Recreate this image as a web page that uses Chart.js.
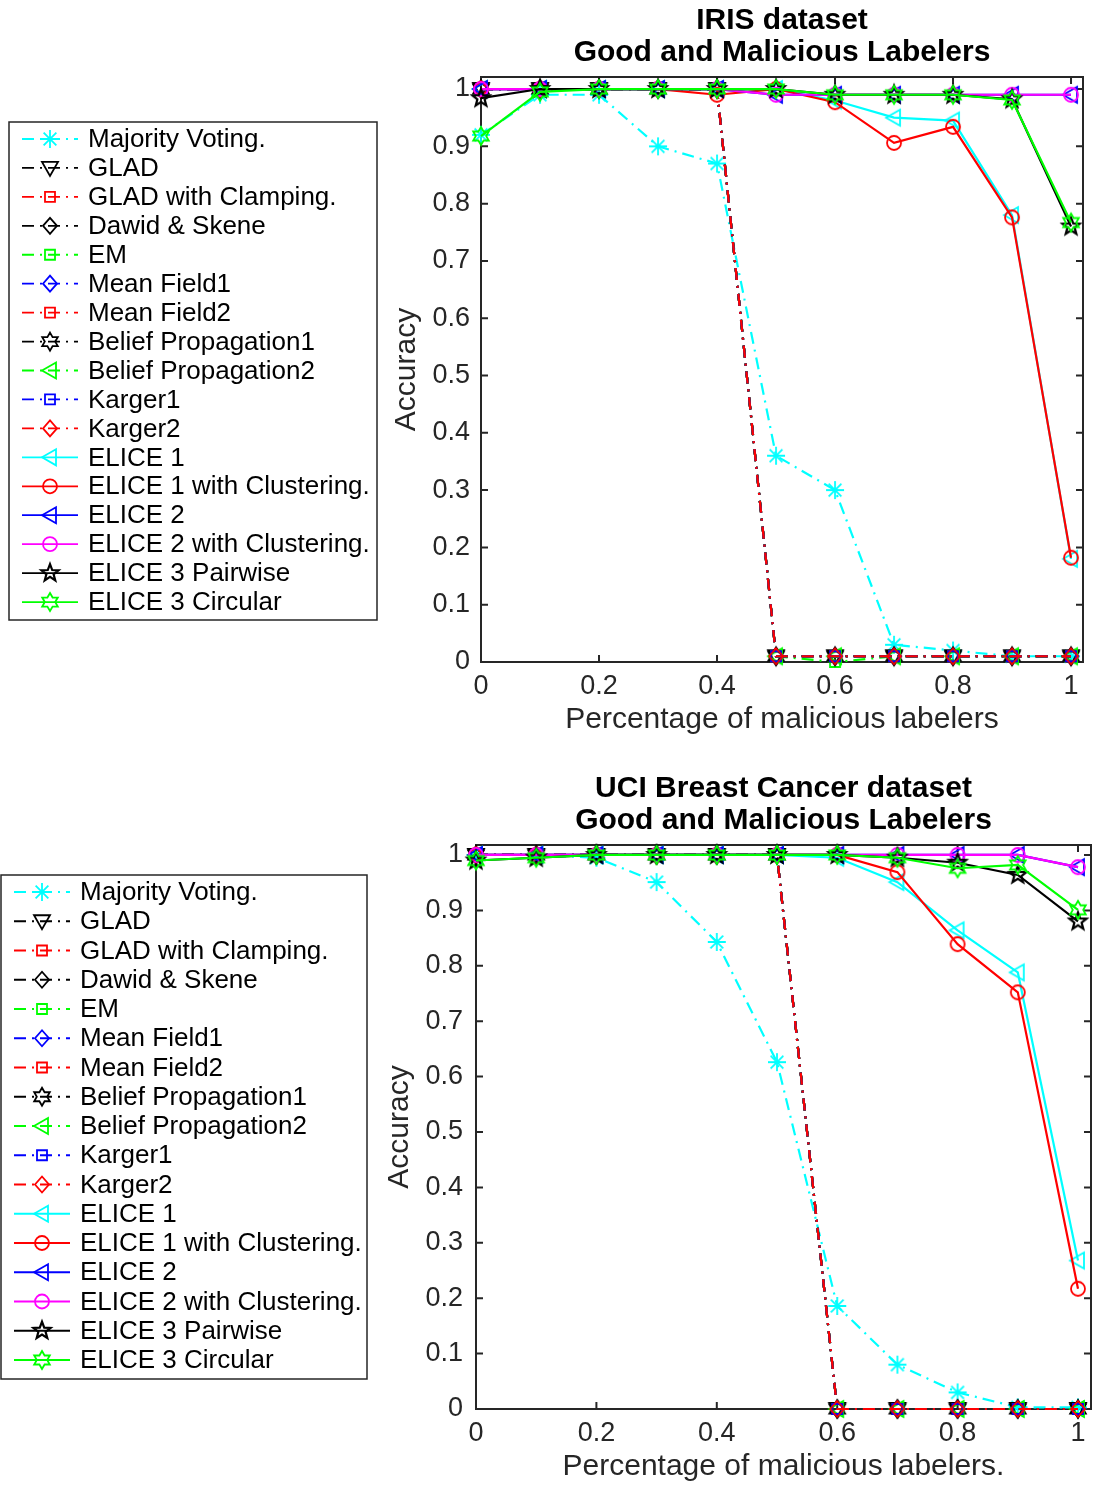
<!DOCTYPE html>
<html>
<head>
<meta charset="utf-8">
<script src="https://cdn.jsdelivr.net/npm/chart.js@4.4.1/dist/chart.umd.min.js"></script>
<style>
  html, body { margin: 0; padding: 0; background: #fff; }
  canvas { display: block; }
</style>
</head>
<body>
<canvas id="irisChart" width="1095" height="742"></canvas>
<canvas id="uciChart" width="1095" height="743"></canvas>
<script>
// x positions: share of malicious labelers
const xValues = [0, 0.1, 0.2, 0.3, 0.4, 0.5, 0.6, 0.7, 0.8, 0.9, 1];
const xTickValues = [0, 0.2, 0.4, 0.6, 0.8, 1];
const xTickLabels = ['0', '0.2', '0.4', '0.6', '0.8', '1'];
const yTickValues = [0, 0.1, 0.2, 0.3, 0.4, 0.5, 0.6, 0.7, 0.8, 0.9, 1];
const yTickLabels = ['0', '0.1', '0.2', '0.3', '0.4', '0.5', '0.6', '0.7', '0.8', '0.9', '1'];

const seriesNames = [
    'Majority Voting.', 'GLAD', 'GLAD with Clamping.', 'Dawid & Skene', 'EM',
    'Mean Field1', 'Mean Field2', 'Belief Propagation1', 'Belief Propagation2',
    'Karger1', 'Karger2', 'ELICE 1', 'ELICE 1 with Clustering.', 'ELICE 2',
    'ELICE 2 with Clustering.', 'ELICE 3 Pairwise', 'ELICE 3 Circular',
];
const seriesColors = [
    '#00ffff', '#000000', '#ff0000', '#000000', '#00ff00',
    '#0000ff', '#ff0000', '#000000', '#00ff00',
    '#0000ff', '#ff0000', '#00ffff', '#ff0000', '#0000ff',
    '#ff00ff', '#000000', '#00ff00',
];
const seriesMarkers = [
    'asterisk', 'triDown', 'square', 'diamond', 'square',
    'diamond', 'square', 'hexagram', 'triLeft',
    'square', 'diamond', 'triLeft', 'circle', 'triLeft',
    'circle', 'pentagram', 'hexagram',
];
const seriesDashDot = [
    true, true, true, true, true, true, true, true, true, true, true,
    false, false, false, false, false, false,
];

// IRIS dataset
const irisMajorityVoting = [0.92, 0.99, 0.99, 0.90, 0.87, 0.36, 0.30, 0.03, 0.02, 0.01, 0.01];
const irisGlad = [1, 1, 1, 1, 1, 0.01, 0.01, 0.01, 0.01, 0.01, 0.01];
const irisGladClamping = [1, 1, 1, 1, 1, 0.01, 0.01, 0.01, 0.01, 0.01, 0.01];
const irisDawidSkene = [1, 1, 1, 1, 1, 0.01, 0.01, 0.01, 0.01, 0.01, 0.01];
const irisEm = [1, 1, 1, 1, 1, 0.01, 0.0, 0.01, 0.01, 0.01, 0.01];
const irisMeanField1 = [1, 1, 1, 1, 1, 0.01, 0.01, 0.01, 0.01, 0.01, 0.01];
const irisMeanField2 = [1, 1, 1, 1, 1, 0.01, 0.01, 0.01, 0.01, 0.01, 0.01];
const irisBeliefProp1 = [1, 1, 1, 1, 1, 0.01, 0.01, 0.01, 0.01, 0.01, 0.01];
const irisBeliefProp2 = [1, 1, 1, 1, 1, 0.01, 0.01, 0.01, 0.01, 0.01, 0.01];
const irisKarger1 = [1, 1, 1, 1, 1, 0.01, 0.01, 0.01, 0.01, 0.01, 0.01];
const irisKarger2 = [1, 1, 1, 1, 1, 0.01, 0.01, 0.01, 0.01, 0.01, 0.01];
const irisElice1 = [1, 1, 1, 1, 1, 1, 0.98, 0.95, 0.945, 0.78, 0.18];
const irisElice1Clust = [1, 1, 1, 1, 0.99, 1, 0.977, 0.906, 0.934, 0.776, 0.182];
const irisElice2 = [1, 1, 1, 1, 1, 0.99, 0.99, 0.99, 0.99, 0.99, 0.99];
const irisElice2Clust = [1, 1, 1, 1, 1, 0.99, 0.99, 0.99, 0.99, 0.99, 0.99];
const irisElice3Pairwise = [0.984, 1, 1, 1, 1, 1, 0.99, 0.99, 0.99, 0.982, 0.76];
const irisElice3Circular = [0.918, 0.995, 1, 1, 1, 1, 0.99, 0.99, 0.99, 0.981, 0.767];

// UCI breast cancer dataset
const uciMajorityVoting = [1, 1, 0.995, 0.951, 0.843, 0.626, 0.186, 0.08, 0.03, 0.003, 0.003];
const uciGlad = [1, 1, 1, 1, 1, 1, 0, 0, 0, 0, 0];
const uciGladClamping = [1, 1, 1, 1, 1, 1, 0, 0, 0, 0, 0];
const uciDawidSkene = [1, 1, 1, 1, 1, 1, 0, 0, 0, 0, 0];
const uciEm = [1, 1, 1, 1, 1, 1, 0, 0, 0, 0, 0];
const uciMeanField1 = [1, 1, 1, 1, 1, 1, 0, 0, 0, 0, 0];
const uciMeanField2 = [1, 1, 1, 1, 1, 1, 0, 0, 0, 0, 0];
const uciBeliefProp1 = [1, 1, 1, 1, 1, 1, 0, 0, 0, 0, 0];
const uciBeliefProp2 = [1, 1, 1, 1, 1, 1, 0, 0, 0, 0, 0];
const uciKarger1 = [1, 1, 1, 1, 1, 1, 0, 0, 0, 0, 0];
const uciKarger2 = [1, 1, 1, 1, 1, 1, 0, 0, 0, 0, 0];
const uciElice1 = [1, 1, 1, 1, 1, 1, 0.995, 0.951, 0.864, 0.788, 0.268];
const uciElice1Clust = [1, 1, 1, 1, 1, 1, 1, 0.969, 0.839, 0.752, 0.217];
const uciElice2 = [1, 1, 1, 1, 1, 1, 1, 1, 1, 1, 0.978];
const uciElice2Clust = [1, 1, 1, 1, 1, 1, 1, 1, 1, 1, 0.978];
const uciElice3Pairwise = [0.99, 0.995, 1, 1, 1, 1, 1, 0.995, 0.986, 0.964, 0.88];
const uciElice3Circular = [0.99, 0.995, 1, 1, 1, 1, 1, 0.995, 0.976, 0.982, 0.901];

const FONT = "'Liberation Sans', Arial, Helvetica, sans-serif";
const AXIS_COLOR = '#262626';
const DASH_DOT = [12, 6, 2, 6];

// hollow MATLAB-like markers
function drawMarker(g, kind, x, y) {
    g.beginPath();
    if (kind === 'asterisk') {
        const r = 9;
        for (let a = 0; a < 4; a++) {
            const t = a * Math.PI / 4;
            g.moveTo(x - r * Math.cos(t), y - r * Math.sin(t));
            g.lineTo(x + r * Math.cos(t), y + r * Math.sin(t));
        }
    } else if (kind === 'triDown') {
        g.moveTo(x - 8, y - 6);
        g.lineTo(x + 8, y - 6);
        g.lineTo(x, y + 8);
        g.closePath();
    } else if (kind === 'triLeft') {
        g.moveTo(x - 8, y);
        g.lineTo(x + 6, y - 8);
        g.lineTo(x + 6, y + 8);
        g.closePath();
    } else if (kind === 'square') {
        g.rect(x - 5, y - 5, 10, 10);
    } else if (kind === 'diamond') {
        g.moveTo(x, y - 8);
        g.lineTo(x + 7, y);
        g.lineTo(x, y + 8);
        g.lineTo(x - 7, y);
        g.closePath();
    } else if (kind === 'circle') {
        g.arc(x, y, 7, 0, Math.PI * 2);
    } else if (kind === 'hexagram' || kind === 'pentagram') {
        const n = kind === 'hexagram' ? 6 : 5;
        const outer = kind === 'hexagram' ? 9 : 9;
        const inner = kind === 'hexagram' ? outer * 0.577 : outer * 0.42;
        for (let k = 0; k < n * 2; k++) {
            const r = k % 2 === 0 ? outer : inner;
            const t = -Math.PI / 2 + k * Math.PI / n;
            const px = x + r * Math.cos(t);
            const py = y + r * Math.sin(t);
            if (k === 0) g.moveTo(px, py); else g.lineTo(px, py);
        }
        g.closePath();
    }
    g.stroke();
}

function markerCanvas(kind, color) {
    const c = document.createElement('canvas');
    c.width = 26;
    c.height = 26;
    const g = c.getContext('2d');
    g.strokeStyle = color;
    g.lineWidth = kind === 'pentagram' ? 2.2 : 1.8;
    g.lineJoin = 'miter';
    drawMarker(g, kind, 13, 13);
    return c;
}

const markerImages = seriesMarkers.map((m, i) => markerCanvas(m, seriesColors[i]));

// box with inward ticks on all four sides, plus title and legend
const framePlugin = {
    id: 'frame',
    beforeDatasetsDraw(chart) {
        const { ctx, chartArea: a, scales } = chart;
        ctx.save();
        ctx.strokeStyle = AXIS_COLOR;
        ctx.lineWidth = 2;
        ctx.setLineDash([]);
        ctx.strokeRect(a.left, a.top, a.right - a.left, a.bottom - a.top);
        ctx.beginPath();
        xTickValues.forEach((v) => {
            const px = scales.x.getPixelForValue(v);
            ctx.moveTo(px, a.bottom);
            ctx.lineTo(px, a.bottom - 7);
            ctx.moveTo(px, a.top);
            ctx.lineTo(px, a.top + 7);
        });
        yTickValues.forEach((v) => {
            const py = scales.y.getPixelForValue(v);
            ctx.moveTo(a.left, py);
            ctx.lineTo(a.left + 7, py);
            ctx.moveTo(a.right, py);
            ctx.lineTo(a.right - 7, py);
        });
        ctx.stroke();
        ctx.restore();
    },
    afterDraw(chart) {
        const opts = chart.options.plugins.frame;
        const { ctx, chartArea: a } = chart;
        ctx.save();
        // title
        ctx.fillStyle = '#000';
        ctx.font = 'bold 30px ' + FONT;
        ctx.textAlign = 'center';
        ctx.textBaseline = 'middle';
        const cx = (a.left + a.right) / 2;
        opts.title.forEach((line, i) => ctx.fillText(line, cx, opts.titleY[i]));

        // legend
        const lg = opts.legend;
        ctx.strokeStyle = AXIS_COLOR;
        ctx.lineWidth = 1.5;
        ctx.fillStyle = '#fff';
        ctx.fillRect(lg.x, lg.y, lg.w, lg.h);
        ctx.strokeRect(lg.x, lg.y, lg.w, lg.h);
        ctx.font = '26px ' + FONT;
        ctx.textAlign = 'left';
        seriesNames.forEach((name, i) => {
            const y = lg.rowY + i * lg.rowStep;
            ctx.strokeStyle = seriesColors[i];
            ctx.lineWidth = 1.8;
            ctx.setLineDash(seriesDashDot[i] ? DASH_DOT : []);
            ctx.beginPath();
            ctx.moveTo(lg.lineX, y);
            ctx.lineTo(lg.lineX + 56, y);
            ctx.stroke();
            ctx.setLineDash([]);
            ctx.lineWidth = seriesMarkers[i] === 'pentagram' ? 2.2 : 1.8;
            drawMarker(ctx, seriesMarkers[i], lg.lineX + 28, y);
            ctx.fillStyle = '#000';
            ctx.fillText(name, lg.textX, y + 1);
        });
        ctx.restore();
    },
};

function buildChart(id, cfg) {
    const datasets = cfg.series.map((vals, i) => ({
        label: seriesNames[i],
        data: vals.map((v, k) => ({ x: xValues[k], y: v })),
        borderColor: seriesColors[i],
        backgroundColor: seriesColors[i],
        borderWidth: 2.2,
        borderDash: seriesDashDot[i] ? DASH_DOT : [],
        pointStyle: markerImages[i],
        pointRadius: 9,
        pointHoverRadius: 9,
        tension: 0,
        fill: false,
        clip: false,
        order: seriesNames.length - i,
    }));

    new Chart(document.getElementById(id).getContext('2d'), {
        type: 'line',
        data: { datasets },
        plugins: [framePlugin],
        options: {
            responsive: false,
            animation: false,
            devicePixelRatio: 1,
            events: [],
            layout: { padding: cfg.padding, autoPadding: false },
            plugins: {
                legend: { display: false },
                tooltip: { enabled: false },
                frame: { title: cfg.title, titleY: cfg.titleY, legend: cfg.legend },
            },
            scales: {
                x: {
                    type: 'linear',
                    min: 0,
                    max: cfg.xMax,
                    afterBuildTicks: (s) => { s.ticks = xTickValues.map((v) => ({ value: v })); },
                    afterFit: (s) => { s.height = cfg.xHeight; s.paddingLeft = 0; s.paddingRight = 0; },
                    grid: { display: false, drawTicks: false },
                    border: { display: false },
                    ticks: {
                        callback: (v, i) => xTickLabels[i],
                        font: { family: FONT, size: 27 },
                        color: AXIS_COLOR,
                        padding: cfg.xTickPad,
                        maxRotation: 0,
                        autoSkip: false,
                    },
                    title: {
                        display: true,
                        text: cfg.xTitle,
                        font: { family: FONT, size: 30 },
                        color: AXIS_COLOR,
                        padding: { top: 0, bottom: cfg.xTitlePad },
                    },
                },
                y: {
                    type: 'linear',
                    min: 0,
                    max: cfg.yMax,
                    afterBuildTicks: (s) => { s.ticks = yTickValues.map((v) => ({ value: v })); },
                    afterFit: (s) => { s.width = cfg.yWidth; s.paddingTop = 0; s.paddingBottom = 0; },
                    grid: { display: false, drawTicks: false },
                    border: { display: false },
                    ticks: {
                        callback: (v, i) => yTickLabels[i],
                        font: { family: FONT, size: 27 },
                        color: AXIS_COLOR,
                        padding: cfg.yTickPad,
                        autoSkip: false,
                    },
                    title: {
                        display: true,
                        text: 'Accuracy',
                        font: { family: FONT, size: 30 },
                        color: AXIS_COLOR,
                        padding: { top: cfg.yTitlePad, bottom: 0 },
                    },
                },
            },
        },
    });
}

buildChart('irisChart', {
    series: [
        irisMajorityVoting, irisGlad, irisGladClamping, irisDawidSkene, irisEm,
        irisMeanField1, irisMeanField2, irisBeliefProp1, irisBeliefProp2,
        irisKarger1, irisKarger2, irisElice1, irisElice1Clust, irisElice2,
        irisElice2Clust, irisElice3Pairwise, irisElice3Circular,
    ],
    title: ['IRIS dataset', 'Good and Malicious Labelers'],
    titleY: [21, 53],
    xTitle: 'Percentage of malicious labelers',
    padding: { left: 380, right: 12, top: 77, bottom: 0 },
    yWidth: 101,
    xHeight: 80,
    xMax: 1.0203,
    yMax: 1.021,
    xTickPad: 8,
    yTickPad: 11,
    xTitlePad: 4,
    yTitlePad: 9,
    legend: { x: 9, y: 122, w: 368, h: 498, rowY: 139, rowStep: 28.94, lineX: 22, textX: 88 },
});

buildChart('uciChart', {
    series: [
        uciMajorityVoting, uciGlad, uciGladClamping, uciDawidSkene, uciEm,
        uciMeanField1, uciMeanField2, uciBeliefProp1, uciBeliefProp2,
        uciKarger1, uciKarger2, uciElice1, uciElice1Clust, uciElice2,
        uciElice2Clust, uciElice3Pairwise, uciElice3Circular,
    ],
    title: ['UCI Breast Cancer dataset', 'Good and Malicious Labelers'],
    titleY: [47, 79],
    xTitle: 'Percentage of malicious labelers.',
    padding: { left: 370, right: 4, top: 103, bottom: 0 },
    yWidth: 106,
    xHeight: 76,
    xMax: 1.0216,
    yMax: 1.018,
    xTickPad: 8,
    yTickPad: 13,
    xTitlePad: 0,
    yTitlePad: 12,
    legend: { x: 1, y: 133, w: 366, h: 504, rowY: 150, rowStep: 29.25, lineX: 14, textX: 80 },
});
</script>
</body>
</html>
